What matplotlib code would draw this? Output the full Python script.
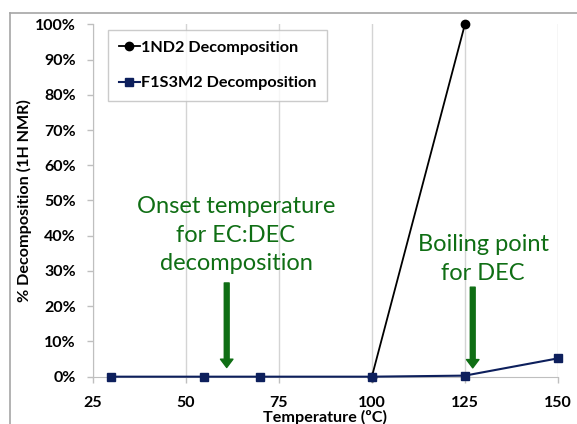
import matplotlib.pyplot as plt
from matplotlib.lines import Line2D
from matplotlib.ticker import PercentFormatter

plt.rcParams['font.family'] = ['Lato', 'DejaVu Sans']

# data
temp_1nd2 = [100, 125]
dec_1nd2 = [0.0, 1.0]
temp_f1s3m2 = [30, 55, 70, 100, 125, 150]
dec_f1s3m2 = [0.0, 0.0, 0.0, 0.0, 0.003, 0.052]
x_ticks = [25, 50, 75, 100, 125, 150]
y_ticks = [0, 0.1, 0.2, 0.3, 0.4, 0.5, 0.6, 0.7, 0.8, 0.9, 1.0]

navy = '#0d1f5c'
green = '#0f6e14'
grid_gray = '#d4d4d4'

fig = plt.figure(figsize=(5.77, 4.24), dpi=100)
ax = fig.add_axes([0.1607, 0.1116, 0.8063, 0.8311])

# outer chart frame (only top and left visible)
fig.add_artist(Line2D([10/577, 1], [1 - 13/424, 1 - 13/424], color='#a6a6a6', lw=1.2))
fig.add_artist(Line2D([10/577, 10/577], [0, 1 - 13/424], color='#a6a6a6', lw=1.2))

ax.plot(temp_1nd2, dec_1nd2, color='black', lw=1.3, marker='o', ms=6,
        label='1ND2 Decomposition', zorder=3, clip_on=False)
ax.plot(temp_f1s3m2, dec_f1s3m2, color=navy, lw=1.5, marker='s', ms=6,
        label='F1S3M2 Decomposition', zorder=4, clip_on=False)

ax.set_xlim(25, 150)
ax.set_ylim(0, 1)
ax.set_xticks(x_ticks)
ax.set_yticks(y_ticks)
ax.yaxis.set_major_formatter(PercentFormatter(1.0, decimals=0))
ax.xaxis.grid(True, color=grid_gray, lw=1)
ax.set_axisbelow(True)

for s in ['top', 'right']:
    ax.spines[s].set_visible(False)
ax.spines['left'].set_color('#bfbfbf')
ax.spines['bottom'].set_color('#bfbfbf')
ax.tick_params(axis='both', colors='#bfbfbf', length=4, width=1,
               labelcolor='black', labelsize=11.5)
ax.tick_params(axis='y', pad=8)
ax.tick_params(axis='x', pad=10)
for lab in ax.get_xticklabels() + ax.get_yticklabels():
    lab.set_fontweight('bold')

ax.set_xlabel('Temperature (ºC)', fontsize=11.6, fontweight='bold', labelpad=0)
ax.set_ylabel('% Decomposition (1H NMR)', fontsize=11.6, fontweight='bold', labelpad=2)

leg = ax.legend(loc='upper left', bbox_to_anchor=(108/577, 1 - 30/424),
                bbox_transform=fig.transFigure, frameon=True, fancybox=False,
                prop={'weight': 'bold', 'size': 11.7}, handlelength=1.3,
                handletextpad=0.1, labelspacing=1.3, borderpad=0.65,
                borderaxespad=0)
leg.get_frame().set_edgecolor('#bfbfbf')
leg.get_frame().set_linewidth(1)

# annotations
ax.text(63.5, 0.402, 'Onset temperature\nfor EC:DEC\ndecomposition',
        color=green, fontsize=17, ha='center', va='center', linespacing=1.45)
ax.annotate('', xy=(61, 0.026), xytext=(61, 0.266),
            arrowprops=dict(facecolor=green, edgecolor=green, width=3.5,
                            headwidth=9, headlength=6))
ax.text(129.9, 0.334, 'Boiling point\nfor DEC',
        color=green, fontsize=17, ha='center', va='center', linespacing=1.45)
ax.annotate('', xy=(127.1, 0.025), xytext=(127.1, 0.254),
            arrowprops=dict(facecolor=green, edgecolor=green, width=3.5,
                            headwidth=9, headlength=6))

fig.savefig('out.png', dpi=100)
